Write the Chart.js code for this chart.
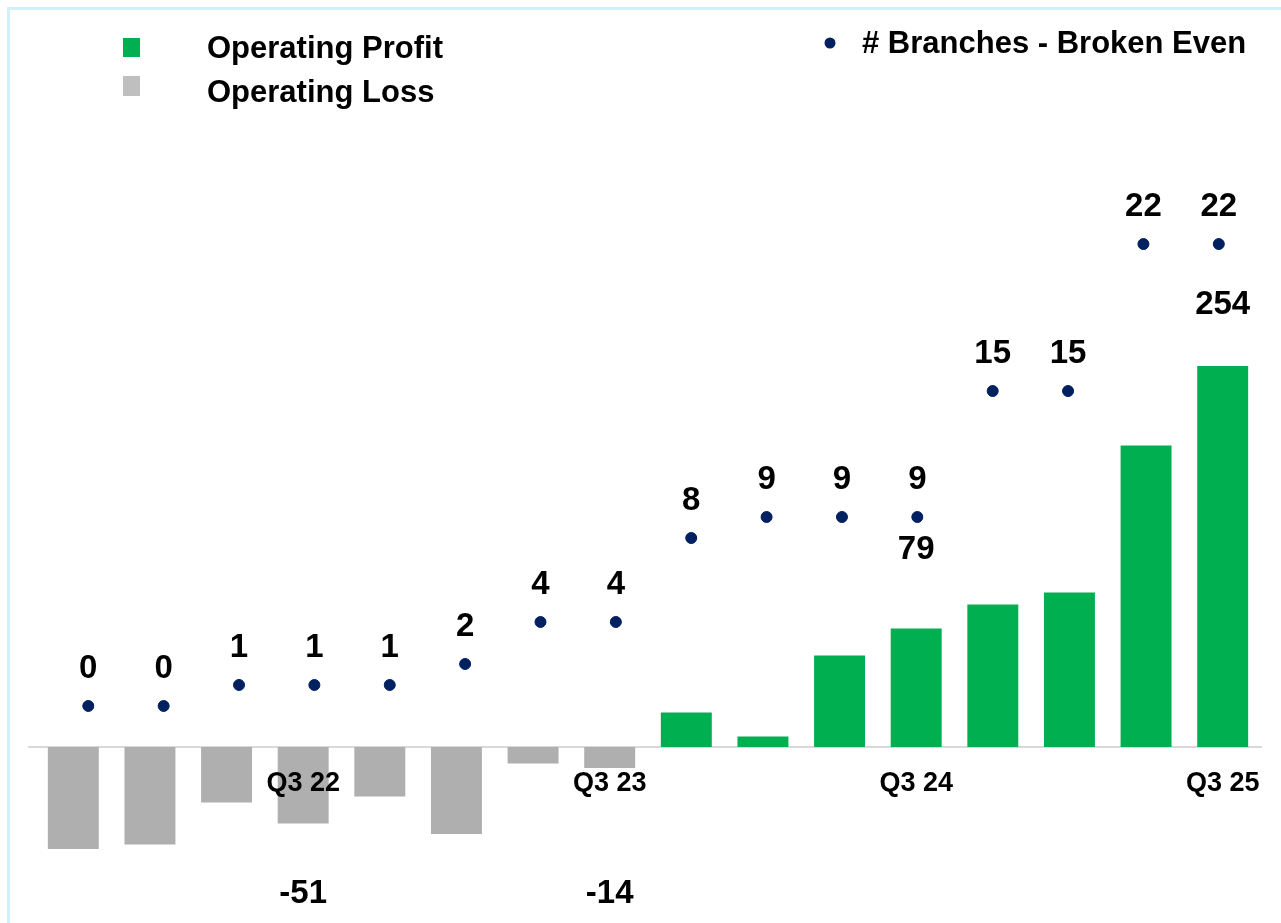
<!DOCTYPE html>
<html>
<head>
<meta charset="utf-8">
<script src="https://cdn.jsdelivr.net/npm/chart.js@4.4.1/dist/chart.umd.min.js"></script>
<style>
  html, body { margin: 0; padding: 0; background: #fff; }
  #wrap { width: 1281px; height: 923px; position: relative; }
</style>
</head>
<body>
<div id="wrap"><canvas id="chart" width="1281" height="923"></canvas></div>
<script>
// quarters from Q4 21 to Q3 25
const quarters = ['Q4 21', 'Q1 22', 'Q2 22', 'Q3 22', 'Q4 22', 'Q1 23', 'Q2 23', 'Q3 23',
                  'Q4 23', 'Q1 24', 'Q2 24', 'Q3 24', 'Q4 24', 'Q1 25', 'Q2 25', 'Q3 25'];
const axisLabels = ['', '', '', 'Q3 22', '', '', '', 'Q3 23', '', '', '', 'Q3 24', '', '', '', 'Q3 25'];
const operatingResult = [-68, -65, -37, -51, -33, -58, -11, -14, 23, 7, 61, 79, 95, 103, 201, 254];
const resultLabels = [null, null, null, '-51', null, null, null, '-14', null, null, null, '79', null, null, null, '254'];
const branchesBrokenEven = [0, 0, 1, 1, 1, 2, 4, 4, 8, 9, 9, 9, 15, 15, 22, 22];

const GREEN = '#00b050';
const GREY = '#afafaf';
const NAVY = '#002060';
const FONT = '"Liberation Sans", Arial, sans-serif';

const profit = operatingResult.map(v => (v >= 0 ? v : null));
const loss = operatingResult.map(v => (v < 0 ? v : null));

const labelsPlugin = {
    id: 'labelsPlugin',
    beforeDraw(chart) {
        const ctx = chart.ctx;
        ctx.save();
        ctx.fillStyle = '#fff';
        ctx.fillRect(0, 0, chart.width, chart.height);
        // light frame
        ctx.strokeStyle = '#d2f0fb';
        ctx.lineWidth = 3;
        ctx.beginPath();
        ctx.moveTo(chart.width, 8.5);
        ctx.lineTo(8.5, 8.5);
        ctx.lineTo(8.5, chart.height);
        ctx.stroke();
        ctx.restore();
    },
    beforeDatasetsDraw(chart) {
        const ctx = chart.ctx;
        const y0 = chart.scales.y.getPixelForValue(0);
        ctx.save();
        ctx.strokeStyle = '#d9d9d9';
        ctx.lineWidth = 2;
        ctx.beginPath();
        ctx.moveTo(chart.chartArea.left - 7, y0);
        ctx.lineTo(chart.chartArea.right + 1, y0);
        ctx.stroke();
        ctx.restore();
    },
    afterDatasetsDraw(chart) {
        const ctx = chart.ctx;
        const xs = chart.scales.x;
        const y0 = chart.scales.y.getPixelForValue(0);
        ctx.save();
        ctx.fillStyle = '#000';
        ctx.textAlign = 'center';
        ctx.textBaseline = 'middle';

        // category labels under the zero line
        ctx.font = `bold 27px ${FONT}`;
        axisLabels.forEach((lab, i) => {
            if (lab) ctx.fillText(lab, xs.getPixelForValue(i), y0 + 37);
        });

        // bar value labels
        ctx.font = `bold 33px ${FONT}`;
        const nudge = { 11: 79, 15: 61 };
        resultLabels.forEach((lab, i) => {
            if (!lab) return;
            const v = operatingResult[i];
            const meta = chart.getDatasetMeta(v >= 0 ? 0 : 1);
            const bar = meta.data[i];
            const y = v >= 0 ? bar.y - (nudge[i] || 61) : chart.chartArea.bottom - 6;
            ctx.fillText(lab, bar.x, y);
        });

        // branch count labels
        const dots = chart.getDatasetMeta(2).data;
        branchesBrokenEven.forEach((v, i) => {
            ctx.fillText(String(v), dots[i].x, dots[i].y - 37);
        });

        // legend
        ctx.textAlign = 'left';
        ctx.font = `bold 31px ${FONT}`;
        ctx.fillStyle = GREEN;
        ctx.fillRect(123, 38, 17, 19);
        ctx.fillStyle = '#bfbfbf';
        ctx.fillRect(123, 76, 17, 20);
        ctx.fillStyle = NAVY;
        ctx.beginPath();
        ctx.arc(830, 43, 5.5, 0, Math.PI * 2);
        ctx.fill();
        ctx.fillStyle = '#000';
        ctx.fillText(chart.data.datasets[0].label, 207, 49);
        ctx.fillText(chart.data.datasets[1].label, 207, 93);
        ctx.fillText(chart.data.datasets[2].label, 862, 44);
        ctx.restore();
    }
};

new Chart(document.getElementById('chart'), {
    data: {
        labels: quarters,
        datasets: [
            {
                type: 'bar',
                label: 'Operating Profit',
                data: profit,
                backgroundColor: GREEN,
                grouped: false,
                categoryPercentage: 1,
                barPercentage: 0.665,
                xAxisID: 'x',
                yAxisID: 'y',
                order: 2,
            },
            {
                type: 'bar',
                label: 'Operating Loss',
                data: loss,
                backgroundColor: GREY,
                grouped: false,
                categoryPercentage: 1,
                barPercentage: 0.665,
                xAxisID: 'x',
                yAxisID: 'y',
                order: 2,
            },
            {
                type: 'scatter',
                label: '# Branches - Broken Even',
                data: branchesBrokenEven.map((v, i) => ({ x: i, y: v })),
                backgroundColor: NAVY,
                borderColor: NAVY,
                pointRadius: 5.5,
                xAxisID: 'x2',
                yAxisID: 'y2',
                order: 1,
            },
        ],
    },
    options: {
        responsive: false,
        animation: false,
        layout: { padding: { left: 35, right: 20, top: 130, bottom: 23 } },
        plugins: {
            legend: { display: false },
            tooltip: { enabled: false },
        },
        scales: {
            x: { type: 'category', display: false, offset: true },
            x2: { type: 'linear', display: false, min: -0.707, max: 15.56 },
            y: { type: 'linear', display: false, min: -102, max: 411.3 },
            y2: { type: 'linear', display: false, min: -9.24, max: 27.43 },
        },
    },
    plugins: [labelsPlugin],
});
</script>
</body>
</html>
